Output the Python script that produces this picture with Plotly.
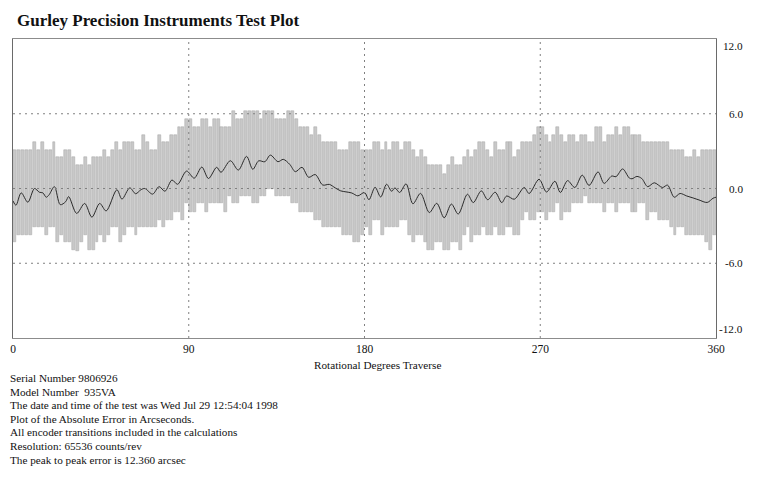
import plotly.graph_objects as go

# ---------------- data ----------------
title_text = "Gurley Precision Instruments Test Plot"
x_title = "Rotational Degrees Traverse"
x_ticks = [0, 90, 180, 270, 360]
y_ticks = [12, 6, 0, -6, -12]
y_ticktext = ["12.0", "6.0", "0.0", "-6.0", "-12.0"]
grid_x = [90, 180, 270]
grid_y = [6, 0, -6]

info_lines = [
    "Serial Number 9806926",
    "Model Number  935VA",
    "The date and time of the test was Wed Jul 29 12:54:04 1998",
    "Plot of the Absolute Error in Arcseconds.",
    "All encoder transitions included in the calculations",
    "Resolution: 65536 counts/rev",
    "The peak to peak error is 12.360 arcsec",
]

# band of min/max error, one bar every 2 degrees (centres 1,3,...,359)
bar_deg = list(range(1, 360, 2))
bar_top = [
    3.1, 3.1, 3.1, 3.1, 3.1, 3.7, 3.1, 3.7, 3.1, 3.1,
    3.7, 2.5, 2.5, 3.1, 3.1, 2.5, 1.9, 1.9, 2.5, 1.9,
    2.5, 2.5, 2.5, 3.1, 2.5, 3.1, 3.7, 3.1, 3.7, 3.7,
    3.7, 3.1, 3.1, 4.3, 3.7, 3.1, 3.1, 4.3, 3.7, 3.7,
    4.3, 4.3, 4.9, 4.9, 5.6, 5.6, 4.9, 4.9, 5.6, 5.6,
    4.9, 5.6, 5.6, 4.9, 4.9, 4.9, 6.2, 5.6, 5.6, 6.2,
    6.2, 6.2, 6.2, 5.6, 6.2, 6.2, 6.2, 5.6, 5.6, 5.6,
    6.2, 6.2, 5.6, 4.9, 4.9, 4.9, 4.3, 4.9, 4.3, 3.7,
    3.7, 3.7, 3.7, 3.1, 3.1, 3.1, 3.7, 3.7, 3.7, 3.1,
    3.1, 3.1, 3.7, 3.7, 3.1, 3.7, 3.1, 3.7, 3.7, 3.1,
    3.7, 3.7, 3.1, 2.5, 3.1, 2.5, 1.9, 1.9, 1.9, 1.9,
    1.2, 1.9, 2.5, 1.9, 1.9, 2.5, 3.1, 2.5, 3.1, 3.7,
    3.7, 3.1, 2.5, 3.7, 3.1, 3.1, 3.7, 3.7, 2.5, 3.1,
    3.7, 3.7, 3.7, 4.3, 4.9, 4.9, 4.3, 3.7, 4.3, 4.9,
    4.3, 3.7, 4.3, 4.3, 3.7, 4.3, 4.3, 3.7, 3.7, 4.9,
    4.9, 3.7, 4.3, 4.3, 4.9, 4.3, 4.9, 4.9, 4.3, 4.3,
    4.3, 3.7, 3.7, 3.7, 3.7, 3.7, 3.7, 3.7, 3.1, 3.1,
    3.1, 3.1, 2.5, 2.5, 3.1, 2.5, 3.1, 3.1, 3.1, 3.1,
]
bar_bottom = [
    -4.3, -3.7, -3.7, -3.7, -3.7, -3.1, -3.1, -3.1, -3.7, -3.1,
    -3.1, -4.3, -3.7, -4.3, -4.3, -4.9, -5.0, -4.3, -3.7, -4.9,
    -4.9, -4.3, -3.7, -4.3, -3.7, -3.1, -3.1, -4.3, -3.7, -3.1,
    -3.1, -3.7, -3.1, -3.1, -3.1, -3.1, -3.1, -2.5, -3.1, -2.5,
    -2.5, -1.9, -1.9, -2.5, -1.2, -1.9, -1.9, -1.2, -1.2, -1.9,
    -1.2, -1.2, -1.2, -1.2, -1.9, -0.6, -1.2, -1.2, -0.6, -0.6,
    -0.6, -1.2, -1.2, -0.6, -0.6, 0.0, 0.0, -0.6, -0.6, -0.6,
    -0.6, -1.2, -1.2, -1.9, -1.9, -1.9, -1.9, -2.5, -2.5, -3.1,
    -3.1, -3.1, -3.1, -3.1, -3.7, -3.7, -3.7, -4.3, -4.3, -3.7,
    -3.1, -3.7, -2.5, -2.5, -3.7, -3.1, -3.1, -3.1, -3.1, -2.5,
    -2.5, -3.7, -4.3, -3.7, -3.7, -4.3, -4.9, -4.9, -4.3, -4.3,
    -4.9, -4.9, -4.3, -4.3, -4.9, -3.7, -3.1, -4.3, -3.7, -3.7,
    -3.1, -3.7, -3.7, -3.1, -3.7, -3.7, -3.1, -3.1, -3.7, -3.7,
    -2.5, -1.9, -2.5, -2.5, -1.9, -1.9, -2.5, -1.9, -1.9, -1.2,
    -2.5, -1.9, -1.9, -1.2, -1.2, -1.2, -0.6, -1.2, -1.2, -1.2,
    -1.2, -1.9, -1.2, -1.2, -1.9, -1.2, -1.2, -1.2, -1.9, -1.9,
    -1.2, -1.2, -2.5, -1.9, -1.9, -2.5, -2.5, -2.5, -3.1, -3.7,
    -3.1, -3.1, -3.7, -3.7, -3.7, -3.7, -3.7, -4.3, -4.9, -3.7,
]

# mean error curve (degrees, arcsec)
line_deg = [
    0, 1.5, 4.2, 7.6, 11.0, 13.5, 15.3, 17.0, 18.5, 21.2,
    24.2, 27.0, 28.5, 32.6, 36.7, 40.4, 44.4, 47.7, 53.2, 55.8,
    59.8, 62.8, 65.5, 67.5, 71.5, 74.8, 77.8, 81.4, 84.3, 88.9,
    92.8, 96.7, 100.1, 104.3, 106.5, 111.3, 115.4, 119.6, 122.8, 125.8,
    129.0, 131.8, 135.7, 138.4, 141.7, 144.6, 148.0, 151.4, 154.8, 158.6,
    162.0, 165.0, 167.8, 170.5, 173.5, 176.6, 180.0, 182.3, 185.4, 188.3,
    191.3, 193.9, 195.6, 198.0, 201.3, 204.8, 208.7, 213.2, 217.0, 220.8,
    224.5, 228.0, 232.7, 235.7, 239.8, 243.1, 246.9, 250.3, 252.8, 256.7,
    261.8, 264.3, 269.4, 273.2, 277.5, 280.3, 284.0, 287.7, 291.5, 295.0,
    299.6, 302.7, 306.6, 308.8, 312.2, 315.6, 317.0, 319.5, 322.0, 325.0,
    328.4, 332.6, 335.2, 338.6, 341.6, 345.0, 348.3, 351.3, 355.5, 358.5,
    360.0,
]
line_err = [
    -1.0, -1.35, -0.35, -1.1, 0.0, -0.3, -0.35, -0.7, -0.5, 0.15,
    -1.3, -1.05, -0.65, -2.0, -1.2, -2.3, -1.2, -1.8, -0.1, -0.85,
    0.05, -0.42, -0.1, 0.0, -0.45, 0.15, -0.22, 0.68, 0.34, 1.4,
    0.83, 1.72, 0.8, 1.7, 1.3, 2.23, 1.48, 2.58, 1.54, 2.22,
    2.15, 2.68, 2.15, 2.34, 1.94, 1.35, 1.7, 0.9, 1.12, 0.28,
    0.33, 0.05, -0.19, -0.27, -0.36, -0.59, -0.32, -0.9, 0.1, -0.68,
    0.34, -0.22, 0.05, -0.32, 0.37, -1.23, -0.39, -1.93, -1.19, -2.35,
    -1.25, -2.05, -0.46, -1.13, -0.19, -0.9, -0.3, -1.13, -0.6, -0.86,
    0.08, -0.4, 0.74, -0.28, 0.58, -0.32, 0.63, 0.08, 1.07, 0.25,
    1.33, 0.41, 1.0, 0.95, 1.57, 0.84, 0.78, 0.97, 0.8, 0.15,
    0.46, 0.08, 0.27, -0.7, -0.4, -0.6, -0.76, -0.92, -1.12, -0.78,
    -0.7,
]

# ---------------- figure ----------------
FONT = "Liberation Serif, Times New Roman, serif"
W, H = 768, 480
L, R, T, B = 10, 716, 39, 338   # plot-area pixel box


def px_x(p):
    return (p - L) / (R - L)


def px_y(p):
    return (B - p) / (B - T)


fig = go.Figure()

fig.add_trace(go.Bar(
    x=bar_deg,
    y=[t - b for t, b in zip(bar_top, bar_bottom)],
    base=bar_bottom,
    width=1.5,
    marker=dict(color="#c8c8c8", line=dict(color="#a4a4a4", width=0.5)),
    hoverinfo="skip",
    showlegend=False,
))

fig.add_trace(go.Scatter(
    x=line_deg, y=line_err, mode="lines",
    line=dict(color="#2b2b2b", width=1.0, shape="spline", smoothing=0.9),
    hoverinfo="skip", showlegend=False,
))

shapes = []
for v in grid_y:
    shapes.append(dict(type="line", xref="x", yref="y", x0=x_ticks[0], x1=x_ticks[-1],
                       y0=v, y1=v, layer="above",
                       line=dict(color="#808080", width=1, dash="2px,4px")))
for v in grid_x:
    shapes.append(dict(type="line", xref="x", yref="y", x0=v, x1=v,
                       y0=y_ticks[-1], y1=y_ticks[0], layer="above",
                       line=dict(color="#808080", width=1, dash="2px,4px")))

annotations = []
# right-aligned y tick labels
for v, txt in zip(y_ticks, y_ticktext):
    shift = 0
    if v == max(y_ticks):
        shift = -7
    elif v == min(y_ticks):
        shift = 9
    annotations.append(dict(x=px_x(745), y=v, xref="paper", yref="y", text=txt,
                            showarrow=False, xanchor="right", yanchor="middle",
                            yshift=shift, font=dict(family=FONT, size=11.2, color="#111")))
# x axis title
annotations.append(dict(x=px_x(376), y=px_y(365), xref="paper", yref="paper",
                        text=x_title, showarrow=False, xanchor="center", yanchor="middle",
                        font=dict(family=FONT, size=11.2, color="#111")))
# info block
for i, line in enumerate(info_lines):
    annotations.append(dict(x=px_x(5), y=px_y(378 + i * 13.6), xref="paper", yref="paper",
                            text=line, showarrow=False, xanchor="left", yanchor="middle",
                            font=dict(family=FONT, size=11.2, color="#111")))

fig.update_layout(
    width=W, height=H,
    margin=dict(l=L, r=W - R, t=T, b=H - B, pad=0),
    paper_bgcolor="white", plot_bgcolor="white",
    title=dict(text="<b>" + title_text + "</b>", x=17 / W, xanchor="left", xref="container",
               y=1 - 20 / H, yanchor="middle", yref="container",
               font=dict(family=FONT, size=17, color="#111")),
    xaxis=dict(range=[x_ticks[0], x_ticks[-1]], tickvals=x_ticks,
               ticktext=[str(v) for v in x_ticks], ticks="", showgrid=False,
               zeroline=False, showline=True, linecolor="#8c8c8c", linewidth=1,
               mirror=True, tickfont=dict(family=FONT, size=11.5, color="#111")),
    yaxis=dict(range=[y_ticks[-1], y_ticks[0]], side="right", showticklabels=False,
               ticks="", showgrid=False, zeroline=False, showline=True,
               linecolor="#6a6a6a", linewidth=1, mirror=True),
    bargap=0,
    shapes=shapes,
    annotations=annotations,
    showlegend=False,
)

fig.write_html("out.html", config={"displayModeBar": False},
               post_script="document.body.style.margin='0px';")
